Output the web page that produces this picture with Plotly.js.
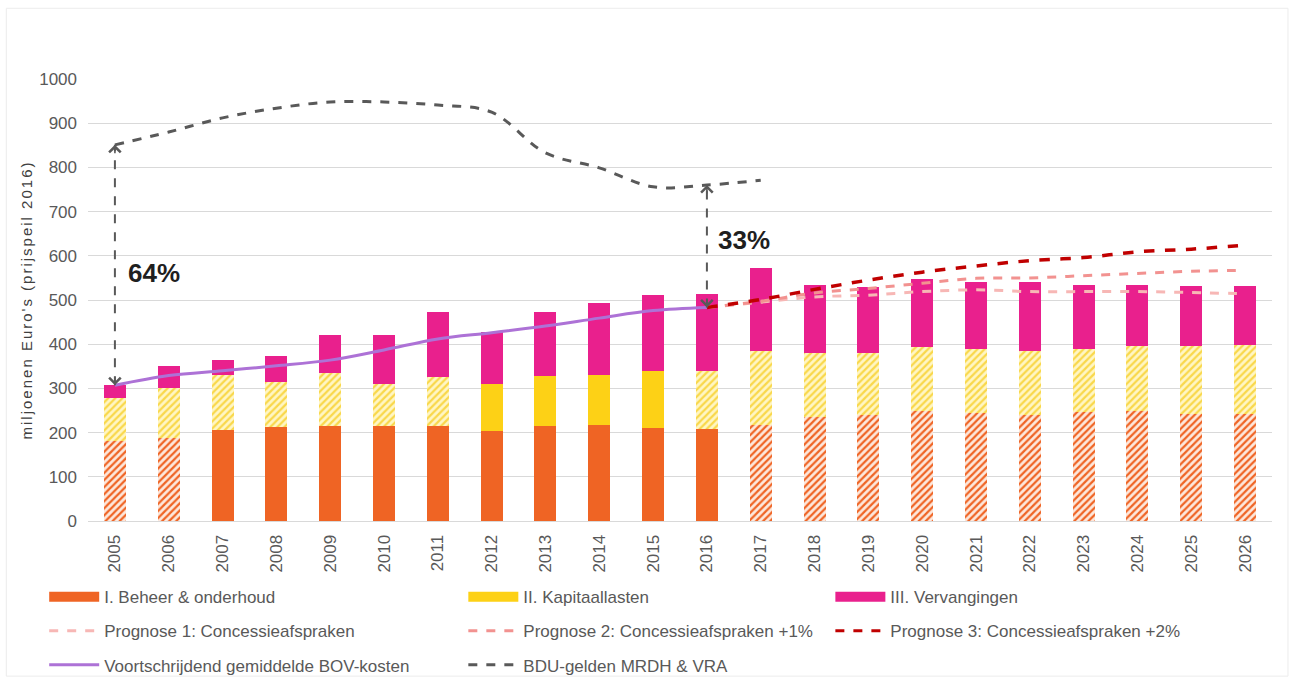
<!DOCTYPE html>
<html>
<head>
<meta charset="utf-8">
<script src="https://cdn.plot.ly/plotly-3.0.1.min.js"></script>
<style>
html,body{margin:0;padding:0;background:#fff;}
#chart{width:1290px;height:680px;}
#chart .ytitle{letter-spacing:2px;}
</style>
</head>
<body>
<div id="chart"></div>
<script>
// ---- data ----
const years = ['2005','2006','2007','2008','2009','2010','2011','2012','2013','2014','2015','2016',
               '2017','2018','2019','2020','2021','2022','2023','2024','2025','2026'];
const beheer = [182,188,205,212,215,215,215,204,215,218,211,208,217,235,240,249,244,240,247,250,243,243];
const kapitaal = [97,112,125,102,119,94,110,106,112,112,129,132,168,144,139,144,145,145,142,147,152,155];
const vervanging = [28,51,35,60,87,112,148,118,146,164,171,174,188,155,151,154,152,156,145,137,137,134];
// estimated (hatched) segments
const beheerEst = [1,1,0,0,0,0,0,0,0,0,0,0,1,1,1,1,1,1,1,1,1,1];
const kapitaalEst = [1,1,1,1,1,1,1,0,0,0,0,1,1,1,1,1,1,1,1,1,1,1];

const bovYears = ['2005','2006','2007','2008','2009','2010','2011','2012','2013','2014','2015','2016'];
const bov = [307,329,340,351,364,387,412,426,441,459,476,483];

const progYears = ['2016','2017','2018','2019','2020','2021','2022','2023','2024','2025','2026'];
const prog1 = [483,495,507,511,519,523,519,519,519,517,514];
const prog2 = [483,497,516,526,538,549,550,555,560,565,567];
const prog3 = [483,501,524,545,563,577,589,596,609,615,624];

const bduYears = ['2005','2006','2007','2008','2009','2010','2011','2012','2013','2014','2015','2016','2017'];
const bdu = [851,880,912,934,948,948,941,925,833,799,756,760,771];

const gapLabels = ['64%','33%'];

// ---- styling ----
const ORANGE = '#ef6424', ORANGE_BG = '#fde8dc';
const YELLOW = '#fdd116', YELLOW_BG = '#fff6c4', YELLOW_FG = '#f9d84a';
const PINK = '#e9208d';
const GREY_TXT = '#595959';
const FONT = 'Liberation Sans, Arial, sans-serif';

function pat(flags, fg, bg){
  return {shape: flags.map(f => f ? '/' : ''), fgcolor: flags.map(() => fg), bgcolor: flags.map(() => bg),
          size: 5, solidity: 0.45, fillmode: 'replace'};
}

const traces = [
  {type:'bar', x:years, y:beheer, name:'I. Beheer & onderhoud', showlegend:false,
   marker:{color: ORANGE, pattern: pat(beheerEst, ORANGE, ORANGE_BG), line:{width:0}}},
  {type:'bar', x:years, y:kapitaal, name:'II. Kapitaallasten', showlegend:false,
   marker:{color: YELLOW, pattern: pat(kapitaalEst, YELLOW_FG, YELLOW_BG), line:{width:0}}},
  {type:'bar', x:years, y:vervanging, name:'III. Vervangingen', showlegend:false,
   marker:{color: PINK, line:{width:0}}},
  {type:'scatter', mode:'lines', x:progYears, y:prog1, name:'Prognose 1: Concessieafspraken', showlegend:false,
   line:{color:'#f7b7b5', width:3, dash:'dash', shape:'spline'}},
  {type:'scatter', mode:'lines', x:progYears, y:prog2, name:'Prognose 2: Concessieafspraken +1%', showlegend:false,
   line:{color:'#f29290', width:3, dash:'dash', shape:'spline'}},
  {type:'scatter', mode:'lines', x:progYears, y:prog3, name:'Prognose 3: Concessieafspraken +2%', showlegend:false,
   line:{color:'#c00000', width:3.5, dash:'dash', shape:'spline'}},
  {type:'scatter', mode:'lines', x:bovYears, y:bov, name:'Voortschrijdend gemiddelde BOV-kosten', showlegend:false,
   line:{color:'#ad72d6', width:3, shape:'spline'}},
  {type:'scatter', mode:'lines', x:bduYears, y:bdu, name:'BDU-gelden MRDH & VRA', showlegend:false,
   line:{color:'#595959', width:3, dash:'dash', shape:'spline'}}
];

// legend entries (three columns)
function leg(name, color, width, dash, legend, group){
  return {type:'scatter', mode:'lines', x:[years[0]], y:[null], name:name, legend:legend, legendgroup:group,
          showlegend:true, hoverinfo:'skip', line:{color:color, width:width, dash:dash}};
}
traces.push(
  leg('I. Beheer & onderhoud', ORANGE, 10, 'solid', 'legend', 'a1'),
  leg('Prognose 1: Concessieafspraken', '#f7b7b5', 3, 'dash', 'legend', 'a2'),
  leg('Voortschrijdend gemiddelde BOV-kosten', '#ad72d6', 3, 'solid', 'legend', 'a3'),
  leg('II. Kapitaallasten', YELLOW, 10, 'solid', 'legend2', 'b1'),
  leg('Prognose 2: Concessieafspraken +1%', '#f29290', 3, 'dash', 'legend2', 'b2'),
  leg('BDU-gelden MRDH & VRA', '#595959', 3, 'dash', 'legend2', 'b3'),
  leg('III. Vervangingen', PINK, 10, 'solid', 'legend3', 'c1'),
  leg('Prognose 3: Concessieafspraken +2%', '#c00000', 3, 'dash', 'legend3', 'c2')
);

const legBase = {orientation:'v', yanchor:'top', y:-0.1315, itemwidth:50, tracegroupgap:9,
  traceorder:'grouped', font:{family:FONT, size:17, color:GREY_TXT},
  bgcolor:'rgba(0,0,0,0)', itemclick:false};

const i0 = 0, i1 = years.indexOf('2016');
const shapes = [
  {type:'line', xref:'x', yref:'y', x0:i0, x1:i0, y0:bov[0], y1:bdu[0],
   line:{color:'#595959', width:2, dash:'dash'}},
  {type:'line', xref:'x', yref:'y', x0:i1, x1:i1, y0:bov[bov.length-1], y1:bdu[bduYears.indexOf('2016')],
   line:{color:'#595959', width:2, dash:'dash'}},
  {type:'rect', xref:'paper', yref:'paper', x0:-0.069, x1:1.0135, y0:-0.351, y1:1.16,
   line:{color:'#ececec', width:1}, fillcolor:'rgba(0,0,0,0)', layer:'below'}
];

function head(x, y, ay){
  return {x:x, y:y, xref:'x', yref:'y', ax:0, ay:ay, text:'', showarrow:true,
          arrowhead:4, arrowsize:1.4, arrowwidth:1.6, arrowcolor:'#595959'};
}
const annotations = [
  head(i0, bdu[0], 10),
  head(i0, bov[0], -10),
  head(i1, bdu[bduYears.indexOf('2016')], 10),
  head(i1, bov[bov.length-1], -10),
  {x:0.2, y:561, xref:'x', yref:'y', xanchor:'left', yanchor:'middle', text:'<b>'+gapLabels[0]+'</b>', showarrow:false,
   font:{family:FONT, size:26, color:'#1f1f1f'}},
  {x:11.16, y:636, xref:'x', yref:'y', xanchor:'left', yanchor:'middle', text:'<b>'+gapLabels[1]+'</b>', showarrow:false,
   font:{family:FONT, size:26, color:'#1f1f1f'}}
];

const layout = {
  width:1290, height:680,
  margin:{l:88, r:18, t:79, b:159, autoexpand:false},
  paper_bgcolor:'#fff', plot_bgcolor:'#fff',
  barmode:'stack', bargap:0.59,
  font:{family:FONT, color:GREY_TXT},
  xaxis:{type:'category', categoryorder:'array', categoryarray:years, range:[-0.5, years.length-0.5],
    tickangle:-90, tickfont:{size:17, color:GREY_TXT}, showgrid:false, showline:true, linecolor:'#d9d9d9', linewidth:1,
    ticks:'', ticklabelstandoff:6, automargin:false},
  yaxis:{range:[0,1000], dtick:100, tick0:0, showgrid:true, gridcolor:'#d9d9d9', gridwidth:1,
    zeroline:false, tickfont:{size:17, color:GREY_TXT}, ticks:'', ticklabelstandoff:10, automargin:false,
    title:{text:"miljoenen Euro's (prijspeil 2016)", font:{size:15, color:'#404040'}, standoff:2}},
  showlegend:true,
  legend: Object.assign({}, legBase, {x:-0.037}),
  legend2: Object.assign({}, legBase, {x:0.317}),
  legend3: Object.assign({}, legBase, {x:0.627}),
  shapes:shapes,
  annotations:annotations
};

Plotly.newPlot('chart', traces, layout, {displayModeBar:false, responsive:false});
</script>
</body>
</html>
